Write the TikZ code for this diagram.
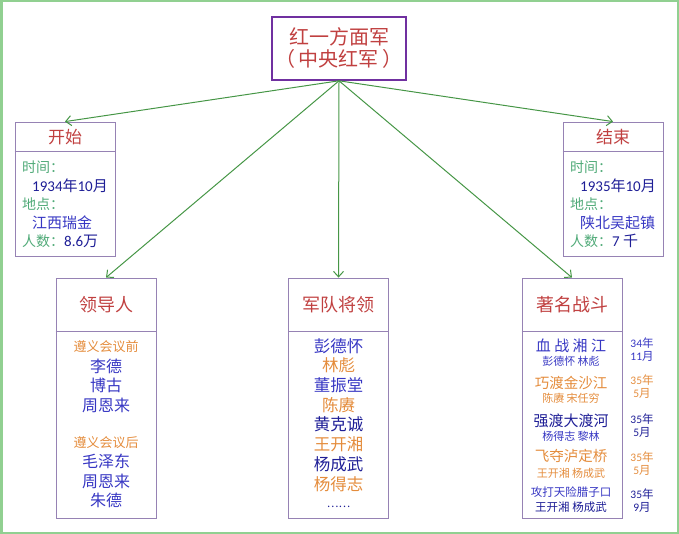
\documentclass[tikz,border=0pt]{standalone}
\usepackage{fontspec}
\setmainfont{Noto Sans CJK SC}
\newfontfamily\lat{Carlito}
\usetikzlibrary{arrows.meta,calc}
\definecolor{titlered}{RGB}{192,64,64}
\definecolor{rootpurple}{RGB}{112,48,160}
\definecolor{boxline}{RGB}{150,130,180}
\definecolor{nameblue}{RGB}{55,55,195}
\definecolor{darkblue}{RGB}{30,30,150}
\definecolor{nameorange}{RGB}{228,140,60}
\definecolor{labelgreen}{RGB}{80,170,120}
\definecolor{arrowgreen}{RGB}{70,150,70}
\definecolor{framegreen}{RGB}{145,208,145}
\newcommand{\fs}[1]{\fontsize{#1}{#1}\selectfont}
\begin{document}
\begin{tikzpicture}[x=1pt,y=-1pt,
  rootbox/.style={draw=rootpurple, line width=1.6pt, minimum width=134pt, minimum height=63pt,
    align=center, inner sep=0pt, text=titlered, font=\fontsize{20}{22}\selectfont},
  infobox/.style={draw=boxline, line width=0.8pt, minimum width=100pt, inner sep=0pt},
  divider/.style={draw=boxline, line width=0.8pt},
  ttl/.style={text=titlered, inner sep=0pt},
  lbl/.style={anchor=west, inner sep=0pt, text=labelgreen, font=\fs{14}},
  val/.style={anchor=west, inner sep=0pt, font=\fs{15}},
  txt/.style={inner sep=0pt},
  datestyle/.style={inner sep=0pt, align=center, font=\fontsize{11.5}{13}\selectfont},
  arr/.style={draw=arrowgreen, line width=1pt, -{Straight Barb[length=5.5pt,width=10pt]}}
]
\useasboundingbox (0,0) rectangle (679,534);
\draw[framegreen, line width=2.5pt] (1.25,1.25) rectangle (677.75,532.75);

% root
\node[rootbox] (root) at (339,48.5) {红一方面军\\（\,中央红军\,）};

% side boxes
\node[infobox, minimum height=134pt] (start) at (65,189) {};
\node[infobox, minimum height=134pt] (end) at (613,189) {};
\draw[divider] ($(start.north west)+(0,30)$) -- ($(start.north east)+(0,30)$);
\draw[divider] ($(end.north west)+(0,30)$) -- ($(end.north east)+(0,30)$);
\node[ttl, font=\fs{17}] (startT) at (65,137) {开始};
\node[ttl, font=\fs{17}] (endT) at (613,137) {结束};

\node[lbl] (s1) at (22,167) {时间：};
\node[val, text=darkblue] (s2) at (32,186) {{\lat 1934}年{\lat 10}月};
\node[lbl] (s3) at (22,204) {地点：};
\node[val, text=nameblue] (s4) at (32,223) {江西瑞金};
\node[lbl] (s5) at (22,241) {人数：\textcolor{darkblue}{\fs{15}{\lat 8.6}万}};

\node[lbl] (e1) at (570,167) {时间：};
\node[val, text=darkblue] (e2) at (580,186) {{\lat 1935}年{\lat 10}月};
\node[lbl] (e3) at (570,204) {地点：};
\node[val, text=nameblue] (e4) at (580,223) {陕北吴起镇};
\node[lbl] (e5) at (570,241) {人数：\textcolor{darkblue}{\fs{15}{\lat 7} 千}};

% bottom boxes
\node[infobox, minimum height=240pt] (lead) at (106,398) {};
\node[infobox, minimum height=240pt] (gen) at (338.5,398) {};
\node[infobox, minimum height=240pt] (bat) at (572,398) {};
\draw[divider] ($(lead.north west)+(0,54)$) -- ($(lead.north east)+(0,54)$);
\draw[divider] ($(gen.north west)+(0,54)$) -- ($(gen.north east)+(0,54)$);
\draw[divider] ($(bat.north west)+(0,54)$) -- ($(bat.north east)+(0,54)$);
\node[ttl, font=\fs{18}] (leadT) at (106,305) {领导人};
\node[ttl, font=\fs{18}] (genT) at (338.5,305) {军队将领};
\node[ttl, font=\fs{18}] (batT) at (572,305) {著名战斗};

% leaders
\node[txt, text=nameorange, font=\fs{13}] (l1) at (106,347) {遵义会议前};
\node[txt, text=nameblue, font=\fs{16}] (l2) at (106,366) {李德};
\node[txt, text=nameblue, font=\fs{16}] (l3) at (106,385) {博古};
\node[txt, text=nameblue, font=\fs{16}] (l4) at (106,405) {周恩来};
\node[txt, text=nameorange, font=\fs{13}] (l5) at (106,443) {遵义会议后};
\node[txt, text=nameblue, font=\fs{16}] (l6) at (106,461) {毛泽东};
\node[txt, text=nameblue, font=\fs{16}] (l7) at (106,481) {周恩来};
\node[txt, text=nameblue, font=\fs{16}] (l8) at (106,500) {朱德};

% generals
\node[txt, text=nameblue, font=\fs{16.5}] (g1) at (338.5,346) {彭德怀};
\node[txt, text=nameorange, font=\fs{16.5}] (g2) at (338.5,365) {林彪};
\node[txt, text=nameblue, font=\fs{16.5}] (g3) at (338.5,385) {董振堂};
\node[txt, text=nameorange, font=\fs{16.5}] (g4) at (338.5,405) {陈赓};
\node[txt, text=darkblue, font=\fs{16.5}] (g5) at (338.5,424) {黄克诚};
\node[txt, text=nameorange, font=\fs{16.5}] (g6) at (338.5,444) {王开湘};
\node[txt, text=darkblue, font=\fs{16.5}] (g7) at (338.5,464) {杨成武};
\node[txt, text=nameorange, font=\fs{16.5}] (g8) at (338.5,484) {杨得志};
\node[txt, text=darkblue, font=\fs{11}] (g9) at (338.5,507) {……};

% battles
\node[txt, text=nameblue, font=\fs{15}] (b1) at (571,346) {血 战 湘 江};
\node[txt, text=nameblue, font=\fs{11}] (b1n) at (571,361) {彭德怀 林彪};
\node[txt, text=nameorange, font=\fs{14.5}] (b2) at (571,383) {巧渡金沙江};
\node[txt, text=nameorange, font=\fs{11}] (b2n) at (571,398) {陈赓 宋任穷};
\node[txt, text=darkblue, font=\fs{15}] (b3) at (571,421) {强渡大渡河};
\node[txt, text=nameblue, font=\fs{11}] (b3n) at (571,436) {杨得志 黎林};
\node[txt, text=nameorange, font=\fs{14.5}] (b4) at (571,456) {飞夺泸定桥};
\node[txt, text=nameorange, font=\fs{11}] (b4n) at (571,473) {王开湘 杨成武};
\node[txt, text=nameblue, font=\fs{11.5}] (b5) at (571,492) {攻打天险腊子口};
\node[txt, text=darkblue, font=\fs{11.5}] (b5n) at (571,507) {王开湘 杨成武};

% dates
\node[datestyle, text=nameblue] (d1) at (642,349.5) {{\lat 34}年\\{\lat 11}月};
\node[datestyle, text=nameorange] (d2) at (642,387) {{\lat 35}年\\{\lat 5}月};
\node[datestyle, text=darkblue] (d3) at (642,426) {{\lat 35}年\\{\lat 5}月};
\node[datestyle, text=nameorange] (d4) at (642,463.5) {{\lat 35}年\\{\lat 5}月};
\node[datestyle, text=darkblue] (d5) at (642,500.5) {{\lat 35}年\\{\lat 9}月};

% arrows
\draw[arr] (root.south) -- (start.north);
\draw[arr] (root.south) -- (end.north);
\draw[arr] (root.south) -- (lead.north);
\draw[arr] (root.south) -- (gen.north);
\draw[arr] (root.south) -- (bat.north);
\end{tikzpicture}
\end{document}
